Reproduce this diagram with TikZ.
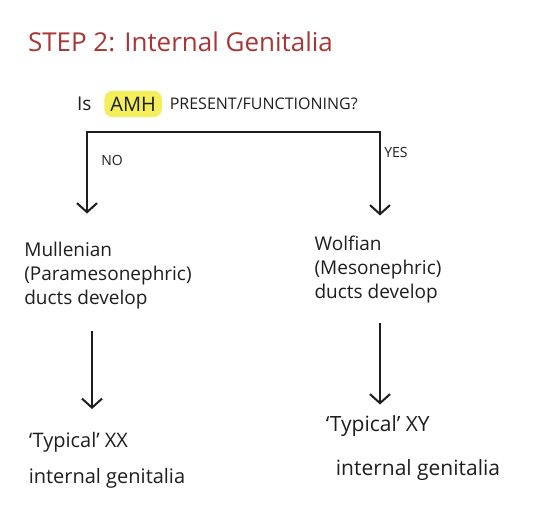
\documentclass[tikz,border=0pt]{standalone}
\usepackage{fontspec}
\setmainfont{Open Sans}
\usetikzlibrary{arrows.meta,positioning}

\definecolor{titlered}{HTML}{A83636}
\definecolor{amhyellow}{HTML}{F4EE5C}
\definecolor{ink}{HTML}{1E1E1E}

\begin{document}
\begin{tikzpicture}[
x=1pt, y=-1pt, % pixel grid of the reference
line width=2pt,
arr/.style={draw=ink, -{Straight Barb[length=9pt,width=20pt,line width=2pt]}},
every node/.style={text=ink, inner sep=2pt},
stage/.style={align=left, font=\fontsize{19}{24}\selectfont},
result/.style={align=left, font=\fontsize{20}{36}\selectfont},
answer/.style={font=\fontsize{14}{16}\selectfont}
]
\useasboundingbox (0,0) rectangle (554,528);

% ================= Title and question =================
\node[anchor=west, text=titlered, font=\fontsize{26}{30}\selectfont] (title) at (25,42) {STEP 2: Internal Genitalia};

\node[anchor=west, font=\fontsize{19}{20}\selectfont] (qis) at (74,104) {Is};
\node[right=9pt of qis, fill=amhyellow, rounded corners=8pt, inner xsep=6pt, inner ysep=6pt,
  font=\fontsize{20}{22}\selectfont] (amh) {AMH};
\node[right=4pt of amh, font=\fontsize{16}{18}\selectfont] (qrest) {PRESENT/FUNCTIONING?};

% ================= Answers =================
\node[answer] (no) at (112,160) {NO};
\node[answer] (yes) at (396,152) {YES};

% ================= Ducts =================
\node[stage] (mull) at (108,276) {Mullenian\\(Paramesonephric)\\ducts develop};
\node[stage] (wolf) at (378,270) {Wolfian\\(Mesonephric)\\ducts develop};

% ================= Outcomes =================
\node[result] (xx) at (107,460) {`Typical' XX\\internal genitalia};
\node[result, font=\fontsize{21}{44}\selectfont] (xy) at (413,448) {`Typical' XY\\\hspace{10pt}internal genitalia};

% ================= Arrows =================
\coordinate (fork) at (233,132);
\draw[arr] (fork) -| ([shift={(-21,-26)}]mull.north);
\draw[arr] (fork) -| ([shift={(2,-18)}]wolf.north);

\draw[arr] ([shift={(-16,18)}]mull.south) -- ([shift={(-16,-20)}]mull.south |- xx.north);
\draw[arr] ([shift={(2,16)}]wolf.south) -- ([shift={(2,-8)}]wolf.south |- xy.north);

\end{tikzpicture}
\end{document}
